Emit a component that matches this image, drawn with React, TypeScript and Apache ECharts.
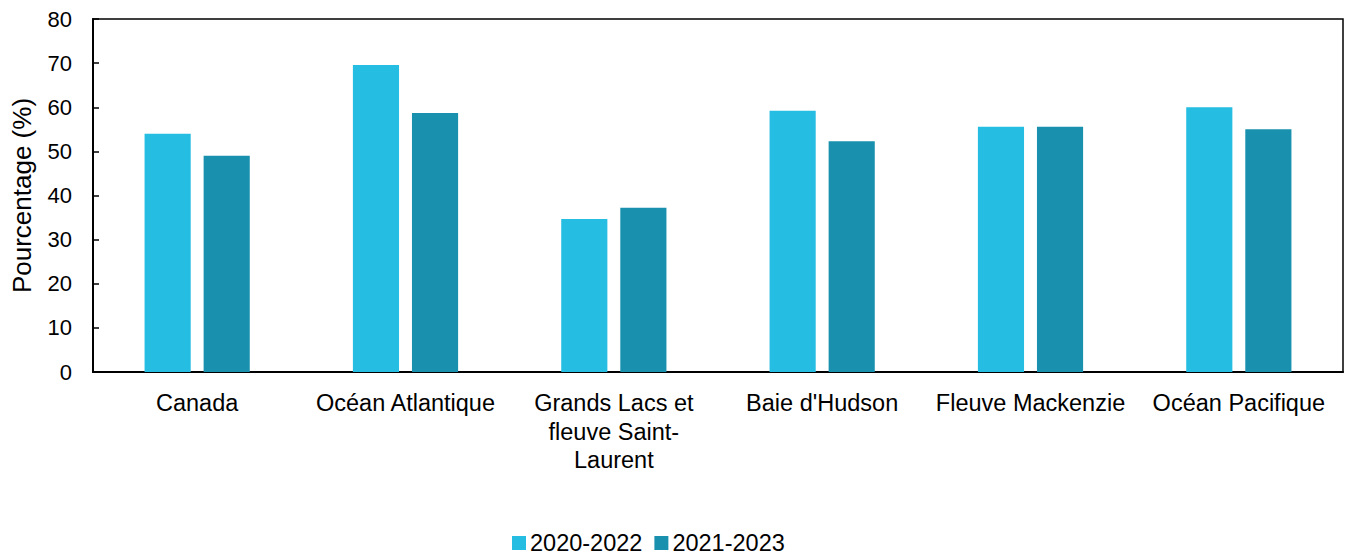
import React, { useEffect, useRef } from "react";
import * as echarts from "echarts";

const categories = [
  "Canada",
  "Océan Atlantique",
  "Grands Lacs et\nfleuve Saint-\nLaurent",
  "Baie d'Hudson",
  "Fleuve Mackenzie",
  "Océan Pacifique",
];
const series2020_2022 = [54.0, 69.6, 34.7, 59.2, 55.6, 60.0];
const series2021_2023 = [49.0, 58.7, 37.2, 52.3, 55.6, 55.0];
const seriesNames = ["2020-2022", "2021-2023"];
const yTicks = { min: 0, max: 80, interval: 10 };

export default function App() {
  const ref = useRef<HTMLDivElement>(null);
  useEffect(() => {
    document.body.style.margin = "0";
    if (!ref.current) return;
    const chart = echarts.init(ref.current, undefined, { renderer: "svg" });
    const font = "'Liberation Sans', Arial, sans-serif";
    chart.setOption({
      animation: false,
      textStyle: { fontFamily: font },
      grid: {
        left: 93,
        right: 4,
        top: 19,
        bottom: 183,
        show: true,
        borderColor: "#000",
        borderWidth: 1.5,
        containLabel: false,
      },
      legend: {
        top: 531,
        left: 512,
        padding: 0,
        itemWidth: 14,
        itemHeight: 14,
        itemGap: 12,
        icon: "rect",
        textStyle: { fontSize: 23.5, color: "#000", fontFamily: font, padding: [0, 0, 0, -1] },
        data: seriesNames,
      },
      xAxis: {
        type: "category",
        data: categories,
        axisLine: { lineStyle: { color: "#000", width: 2 } },
        axisTick: { show: false },
        axisLabel: {
          fontSize: 23.5,
          color: "#000",
          margin: 17,
          lineHeight: 28.5,
          interval: 0,
          fontFamily: font,
        },
      },
      yAxis: {
        type: "value",
        min: yTicks.min,
        max: yTicks.max,
        interval: yTicks.interval,
        name: "Pourcentage (%)",
        nameLocation: "middle",
        nameGap: 58,
        nameTextStyle: { fontSize: 26, color: "#000", fontFamily: font },
        axisLine: { show: true, lineStyle: { color: "#000", width: 2 } },
        axisTick: { show: true, inside: true, length: 6, lineStyle: { color: "#000", width: 1.5 } },
        splitLine: { show: false },
        axisLabel: { fontSize: 22, color: "#000", margin: 21, fontFamily: font },
      },
      series: [
        {
          name: seriesNames[0],
          type: "bar",
          data: series2020_2022,
          itemStyle: { color: "#26BDE2" },
          barGap: "28%",
          barCategoryGap: "49.5%",
        },
        {
          name: seriesNames[1],
          type: "bar",
          data: series2021_2023,
          itemStyle: { color: "#1991AE" },
          barGap: "28%",
          barCategoryGap: "49.5%",
        },
      ],
    });
    return () => chart.dispose();
  }, []);
  return <div ref={ref} style={{ width: 1347, height: 555 }} />;
}
